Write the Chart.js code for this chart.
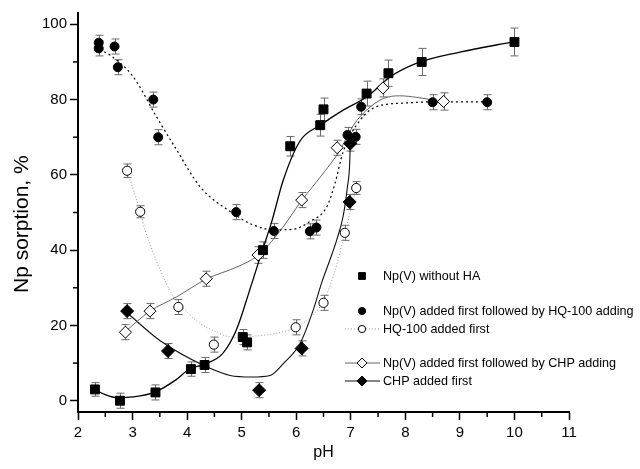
<!DOCTYPE html>
<html>
<head>
<meta charset="utf-8">
<script src="https://cdn.jsdelivr.net/npm/chart.js@4.4.1/dist/chart.umd.min.js"></script>
<style>
html, body { margin: 0; padding: 0; background: #fff; }
#wrap { width: 640px; height: 469px; position: relative; }
</style>
</head>
<body>
<div id="wrap"><canvas id="chart"></canvas></div>
<script>
// measured points (pH, sorption %, error)
const sqX   = [2.31, 2.77, 3.42, 4.07, 4.32, 5.02, 5.10, 5.39, 5.89, 6.44, 6.50, 7.29, 7.69, 8.30, 10.0];
const sqY   = [3.0, 0.0, 2.2, 8.4, 9.5, 16.9, 15.5, 40.0, 67.6, 73.2, 77.4, 81.6, 87.0, 90.0, 95.3];
const sqErr = [1.8, 2.0, 2.0, 1.9, 2.0, 2.0, 2.0, 2.2, 2.6, 2.9, 3.0, 3.3, 3.5, 3.6, 3.7];

const ciX   = [2.38, 2.38, 2.67, 2.73, 3.38, 3.47, 4.90, 5.59, 6.25, 6.37, 6.94, 7.09, 7.19, 8.50, 9.50];
const ciY   = [95.1, 93.6, 94.1, 88.6, 80.0, 70.0, 50.1, 45.1, 45.0, 46.0, 70.6, 70.1, 78.1, 79.3, 79.3];
const ciErr = [2, 2, 2, 2, 2, 2, 2, 2, 2, 2, 2, 2, 2.1, 2, 2];

const ocX   = [2.90, 3.14, 3.84, 4.49, 5.99, 6.50, 6.89, 7.10];
const ocY   = [61.1, 50.2, 24.9, 14.9, 19.5, 26.0, 44.6, 56.5];
const ocErr = [1.8, 1.6, 2, 2, 2, 2, 2, 1.7];

const odX   = [2.87, 3.32, 4.35, 5.30, 6.10, 6.75, 7.59, 8.70];
const odY   = [18.2, 23.8, 32.4, 38.7, 53.3, 67.2, 83.1, 79.5];
const odErr = [2, 2, 2, 2.2, 2, 2, 2.4, 2.3];

const fdX   = [2.90, 3.65, 5.32, 6.10, 6.98, 6.99];
const fdY   = [23.8, 13.2, 2.8, 13.9, 52.8, 68.3];
const fdErr = [2, 2, 2, 2, 2, 2];

// fitted curves
const fitSqX = [2.30, 2.50, 2.72, 3.00, 3.41, 3.80, 4.05, 4.30, 4.65, 4.90, 5.15, 5.38, 5.55, 5.76, 6.07, 6.44, 6.86, 7.29, 7.72, 8.20, 9.00, 10.0];
const fitSqY = [3.0, 1.6, 0.8, 1.0, 2.3, 5.6, 8.5, 9.6, 12.5, 18.7, 29.5, 40.0, 47.5, 58.5, 69.0, 73.2, 77.2, 80.7, 86.0, 89.6, 92.6, 95.4];

const fitCiX = [2.40, 2.59, 3.01, 3.44, 3.81, 4.24, 4.85, 5.21, 5.60, 5.92, 6.25, 6.56, 6.71, 6.86, 7.17, 7.47, 8.02, 8.50, 9.50];
const fitCiY = [93.3, 91.8, 86.1, 75.4, 66.6, 56.8, 49.7, 46.7, 45.4, 45.5, 47.6, 51.5, 57.7, 66.1, 74.5, 78.1, 79.1, 79.4, 79.4];

const fitOcX = [2.90, 3.14, 3.23, 3.50, 3.75, 4.00, 4.24, 4.50, 4.73, 5.00, 5.21, 5.50, 5.76, 6.00, 6.25, 6.50, 6.70, 6.89, 7.10];
const fitOcY = [61.1, 50.2, 45.3, 35.0, 27.6, 23.5, 20.5, 18.5, 17.1, 16.8, 17.1, 17.6, 18.3, 19.6, 22.0, 26.5, 34.0, 44.6, 56.5];

const fitOdX = [2.86, 3.32, 3.81, 4.36, 4.91, 5.30, 5.70, 6.10, 6.50, 6.80, 7.05, 7.29, 7.60, 7.90, 8.20, 8.55];
const fitOdY = [18.3, 23.8, 27.6, 32.4, 35.5, 38.6, 45.0, 53.2, 60.5, 66.5, 73.2, 77.2, 80.3, 81.0, 80.6, 79.8];

const fitFdX = [2.92, 3.50, 4.30, 4.79, 5.18, 5.52, 5.76, 6.07, 6.31, 6.47, 6.62, 6.74, 6.86, 6.94, 6.98, 6.99];
const fitFdY = [23.1, 16.0, 9.4, 6.7, 6.3, 6.7, 9.8, 15.2, 24.0, 31.5, 37.5, 42.6, 49.0, 57.0, 63.0, 68.4];

const xTicks = [2, 3, 4, 5, 6, 7, 8, 9, 10, 11];
const xMinor = [2.5, 3.5, 4.5, 5.5, 6.5, 7.5, 8.5, 9.5, 10.5];
const yTicks = [0, 20, 40, 60, 80, 100];
const yMinor = [10, 30, 50, 70, 90];

const legendLabels = [
  "Np(V) without HA",
  "Np(V) added first followed by HQ-100 adding",
  "HQ-100 added first",
  "Np(V) added first followed by CHP adding",
  "CHP added first"
];

const FONT = "'Liberation Sans', Arial, Helvetica, sans-serif";

function pts(xs, ys) {
  return xs.map((x, i) => ({ x: x, y: ys[i] }));
}

function markers(xs, ys, err, style, radius, fill) {
  return {
    data: pts(xs, ys),
    err: err,
    showLine: false,
    pointStyle: style,
    pointRadius: radius,
    pointHoverRadius: radius,
    pointBackgroundColor: fill,
    pointBorderColor: "#000",
    pointBorderWidth: 1,
    order: 1
  };
}

function curve(xs, ys, color, width, dash) {
  return {
    data: pts(xs, ys),
    showLine: true,
    pointRadius: 0,
    borderColor: color,
    borderWidth: width,
    borderDash: dash,
    cubicInterpolationMode: "monotone",
    fill: false,
    order: 2
  };
}

const errorBars = {
  id: "errorBars",
  beforeDatasetsDraw(chart) {
    const ctx = chart.ctx, xs = chart.scales.x, ys = chart.scales.y;
    ctx.save();
    ctx.strokeStyle = "#6a6a6a";
    ctx.lineWidth = 1;
    chart.data.datasets.forEach(ds => {
      if (!ds.err) return;
      ds.data.forEach((p, i) => {
        const px = Math.round(xs.getPixelForValue(p.x)) + 0.5;
        const top = ys.getPixelForValue(p.y + ds.err[i]);
        const bot = ys.getPixelForValue(p.y - ds.err[i]);
        ctx.beginPath();
        ctx.moveTo(px, top); ctx.lineTo(px, bot);
        ctx.moveTo(px - 4, top); ctx.lineTo(px + 4, top);
        ctx.moveTo(px - 4, bot); ctx.lineTo(px + 4, bot);
        ctx.stroke();
      });
    });
    ctx.restore();
  }
};

const minorTicks = {
  id: "minorTicks",
  afterDraw(chart) {
    const { ctx, chartArea: a, scales: { x, y } } = chart;
    ctx.save();
    ctx.strokeStyle = "#000";
    ctx.lineWidth = 1.5;
    xMinor.forEach(v => {
      const px = x.getPixelForValue(v);
      ctx.beginPath(); ctx.moveTo(px, a.bottom); ctx.lineTo(px, a.bottom + 5); ctx.stroke();
    });
    yMinor.forEach(v => {
      const py = y.getPixelForValue(v);
      ctx.beginPath(); ctx.moveTo(a.left, py); ctx.lineTo(a.left - 5, py); ctx.stroke();
    });
    ctx.restore();
  }
};

const legendBox = {
  id: "legendBox",
  afterDraw(chart) {
    const { ctx, chartArea: a } = chart;
    const ds = chart.data.datasets;
    const mx = a.left + 284, tx = a.left + 305;
    const rows = [0, 35, 53, 87, 105];
    const lines = [null, null, ds[7], ds[8], ds[9]];
    const sizes = [4.8, 3.6, 3.6, 5, 5];
    ctx.save();
    ctx.font = "12.6px " + FONT;
    ctx.textBaseline = "middle";
    ctx.fillStyle = "#000";
    legendLabels.forEach((lab, i) => {
      const yy = a.top + 263 + rows[i];
      const m = ds[i];
      if (lines[i]) {
        ctx.save();
        ctx.strokeStyle = lines[i].borderColor;
        ctx.lineWidth = lines[i].borderWidth;
        ctx.setLineDash(lines[i].borderDash || []);
        ctx.beginPath(); ctx.moveTo(mx - 17, yy); ctx.lineTo(mx + 18, yy); ctx.stroke();
        ctx.restore();
      }
      ctx.save();
      ctx.fillStyle = m.pointBackgroundColor;
      ctx.strokeStyle = "#000";
      ctx.lineWidth = 1;
      Chart.helpers.drawPoint(ctx, { pointStyle: m.pointStyle, radius: sizes[i], rotation: 0, borderWidth: 1 }, mx, yy);
      ctx.restore();
      ctx.fillText(lab, tx, yy + 1);
    });
    ctx.restore();
  }
};

new Chart(document.getElementById("chart"), {
  type: "scatter",
  data: {
    datasets: [
      markers(sqX, sqY, sqErr, "rect", 6.3, "#000"),
      markers(ciX, ciY, ciErr, "circle", 4.5, "#000"),
      markers(ocX, ocY, ocErr, "circle", 4.6, "#fff"),
      markers(odX, odY, odErr, "rectRot", 6, "#fff"),
      markers(fdX, fdY, fdErr, "rectRot", 6.5, "#000"),
      curve(fitSqX, fitSqY, "#000", 1.3, []),
      curve(fitCiX, fitCiY, "#000", 1.2, [2, 3]),
      curve(fitOcX, fitOcY, "#999", 1, [1, 2]),
      curve(fitOdX, fitOdY, "#555", 0.9, []),
      curve(fitFdX, fitFdY, "#111", 1.1, [])
    ]
  },
  options: {
    responsive: true,
    maintainAspectRatio: false,
    animation: false,
    devicePixelRatio: 1,
    layout: { padding: { top: 13, right: 71, left: 0, bottom: 0 } },
    plugins: {
      legend: { display: false },
      tooltip: { enabled: false }
    },
    scales: {
      x: {
        type: "linear",
        min: 2,
        max: 11,
        afterBuildTicks: s => { s.ticks = xTicks.map(v => ({ value: v })); },
        afterFit: s => { s.height = 57; },
        grid: { drawOnChartArea: false, drawTicks: true, tickLength: 8, tickWidth: 1.5, tickColor: "#000" },
        border: { display: true, color: "#000", width: 2 },
        ticks: { color: "#000", font: { family: FONT, size: 15 }, padding: 4, maxRotation: 0 },
        title: { display: true, text: "pH", color: "#000", font: { family: FONT, size: 16 }, padding: { top: 0, bottom: 7 } }
      },
      y: {
        type: "linear",
        min: -3,
        max: 103,
        afterBuildTicks: s => { s.ticks = yTicks.map(v => ({ value: v })); },
        afterFit: s => { s.width = 78; },
        grid: { drawOnChartArea: false, drawTicks: true, tickLength: 8, tickWidth: 1.5, tickColor: "#000" },
        border: { display: true, color: "#000", width: 2 },
        ticks: { color: "#000", font: { family: FONT, size: 15 }, padding: 3 },
        title: { display: true, text: "Np sorption, %    ", color: "#000", font: { family: FONT, size: 21 }, padding: { top: 10, bottom: 0 } }
      }
    }
  },
  plugins: [errorBars, minorTicks, legendBox]
});
</script>
</body>
</html>
